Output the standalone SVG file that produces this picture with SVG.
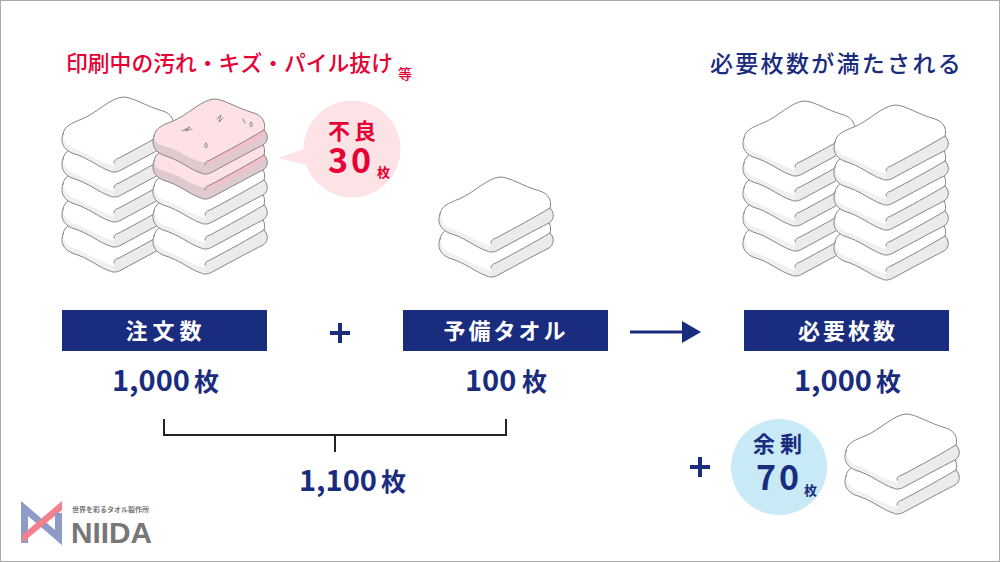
<svg xmlns="http://www.w3.org/2000/svg" width="1000" height="562" viewBox="0 0 1000 562">
<style>
text{font-family:"Noto Sans CJK JP","Noto Sans",sans-serif}
.navy{fill:#1a2c7e}.red{fill:#e60033}
.m{font-weight:500}
.b{font-weight:700}
.num{font-weight:700;font-size:29px;fill:#1a2c7e}
.box{fill:#1a2c7e}
.lbl{font-weight:700;font-size:22px;fill:#fff;text-anchor:middle}
.ol{fill:none;stroke:#858585;stroke-width:1;stroke-linecap:round}
</style>
<defs>
<path id="o" d="M440 214C441 206 449 203 459 199C474 193 487 178 500 177C510 177 522 186 540 191C549 194 552 201 550 208C555 213 554 220 549 223C535 230 515 241 500 249C495 252 491 253 487 251C475 247 466 238 449 233C440 229 437 222 440 214Z"/>
<path id="s" d="M440 214C441 206 449 203 459 199C474 193 487 178 500 177C510 177 522 186 540 191C549 194 552 201 550 208C535 217 515 228 496 238C492 241 491 241 487 240C475 237 466 228 450 224C443 222 440 219 440 214Z"/>
<path id="r" d="M550 208C555 213 554 220 549 223C535 230 515 241 500 249C497 251 494 252 491 252L491 241C493 241 494 240 496 238C515 228 535 217 550 208Z"/>
<path id="l" d="M440 214C438 222 440 229 449 233C466 238 475 247 487 251L491 252L491 246C475 241 462 232 450 228C445 226 441 222 440 214Z"/>
<path id="f" d="M491 243C491 240 493 239 496 238C515 228 535 217 550 208"/>
<g id="towel">
<use href="#o" fill="#fff"/>
<use href="#l" fill="#f0f0f0"/>
<use href="#r" fill="#ebebeb"/>
<use href="#o" class="ol"/>
<use href="#f" class="ol"/>
</g>
<g id="pink">
<use href="#o" fill="#dfcacf"/>
<use href="#s" fill="#fee1e5"/>
<path d="M491 241C493 241 494 240 496 238C515 228 535 217 550 208L551 212C535 222 515 233 491 244Z" fill="#f4bfca"/>
<use href="#o" class="ol"/>
<use href="#f" class="ol"/>
</g>
</defs>
<rect x="0.5" y="0.5" width="999" height="561" fill="#fff" stroke="#aaa"/>

<text id="t1" x="66" y="71" class="red m" font-size="21.8">印刷中の汚れ・キズ・パイル抜け</text>
<text id="t1b" x="398" y="79" class="red m" font-size="14">等</text>
<text id="t2" x="710" y="72" class="navy m" font-size="23" letter-spacing="2.300">必要枚数が満たされる</text>

<g id="stack-a" transform="translate(-377 -80)">
<use href="#towel" y="100"/><use href="#towel" y="75"/><use href="#towel" y="50"/><use href="#towel" y="25"/><use href="#towel"/>
</g>
<g id="stack-b" transform="translate(-286 -78)">
<use href="#towel" y="100"/><use href="#towel" y="75"/><use href="#towel" y="50"/><use href="#pink" y="25"/><use href="#pink"/>
<path class="ol" d="M468 209L476 205L471 209L478 207M503 197L507 193L505 200L509 196M529 197L531 201M537 200a1.200 2.400 0 1 0 .1 0M492 221a1.200 2.400 0 1 0 .1 0"/>
</g>
<g id="stack-c" transform="translate(304 -76)">
<use href="#towel" y="100"/><use href="#towel" y="75"/><use href="#towel" y="50"/><use href="#towel" y="25"/><use href="#towel"/>
</g>
<g id="stack-d" transform="translate(395 -72)">
<use href="#towel" y="100"/><use href="#towel" y="75"/><use href="#towel" y="50"/><use href="#towel" y="25"/><use href="#towel"/>
</g>
<g id="stack-mid"><use href="#towel" y="25"/><use href="#towel"/></g>
<g id="stack-extra" transform="translate(406 237)"><use href="#towel" y="25"/><use href="#towel"/></g>

<g id="bubble-red">
<path d="M278 158L312 146L320 168Z" fill="#fde3e6"/>
<circle cx="352" cy="149" r="48.500" fill="#fde3e6"/>
<text x="328" y="139" class="red b" font-size="22" letter-spacing="4">不良</text>
<text x="328" y="173" class="num" style="fill:#e60033;font-size:34px" letter-spacing="3">30</text>
<text x="377" y="177" class="red b" font-size="13">枚</text>
</g>
<g id="bubble-blue">
<circle cx="779" cy="467" r="48" fill="#c8e9f6"/>
<text x="753" y="452" class="navy b" font-size="22" letter-spacing="5">余剰</text>
<text x="756" y="490" class="num" style="font-size:34px" letter-spacing="3">70</text>
<text x="804" y="495" class="navy b" font-size="13">枚</text>
</g>

<g id="node-order">
<rect class="box" x="62" y="310" width="205" height="41"/>
<text class="lbl" x="166" y="339" letter-spacing="5">注文数</text>
<text class="num" x="112" y="391">1,000</text><text class="navy b" x="194" y="391" font-size="25">枚</text>
</g>
<g id="node-spare">
<rect class="box" x="403" y="310" width="205" height="41"/>
<text class="lbl" x="506" y="339" letter-spacing="3">予備タオル</text>
<text class="num" x="465" y="391">100</text><text class="navy b" x="522" y="391" font-size="25">枚</text>
</g>
<g id="node-need">
<rect class="box" x="744" y="310" width="205" height="41"/>
<text class="lbl" x="848" y="339" letter-spacing="3">必要枚数</text>
<text class="num" x="794" y="391">1,000</text><text class="navy b" x="876" y="391" font-size="25">枚</text>
</g>
<g id="node-total">
<text class="num" x="299" y="491">1,100</text><text class="navy b" x="381" y="491" font-size="25">枚</text>
</g>

<g id="connectors">
<path d="M330 333H350M340 323V343M690 467H710M700 457V477" stroke="#1a2c7e" stroke-width="4" fill="none"/>
<path d="M630 332H684" stroke="#1a2c7e" stroke-width="3" fill="none"/>
<path d="M682 321L701 332L682 343Z" fill="#1a2c7e"/>
<path d="M164 419V435H506V419M335 435V452" stroke="#222" stroke-width="2" fill="none"/>
</g>

<g id="logo">
<path d="M21 501L62 536V545L28 516V543H21Z" fill="#8e9bc8"/>
<path d="M62 501V510L22 543V535Z" fill="#f2808e"/>
<path d="M55 513H62V545L55 539Z" fill="#8e9bc8"/>
<text x="72" y="512" font-size="7" font-weight="700" fill="#777">世界を彩るタオル製作所</text>
<text x="71" y="543" font-size="30" font-weight="700" fill="#777" style="font-family:'Liberation Sans',sans-serif" textLength="81" lengthAdjust="spacingAndGlyphs">NIIDA</text>
</g>
</svg>
